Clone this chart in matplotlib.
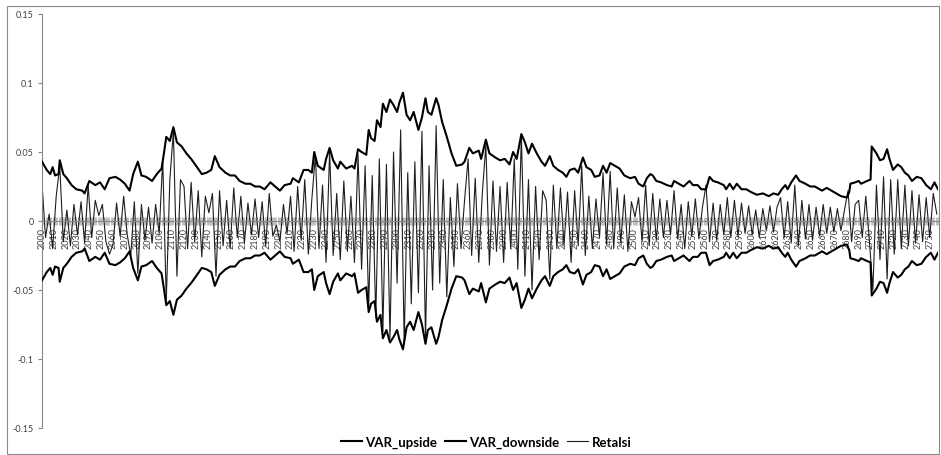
import numpy as np
import matplotlib
matplotlib.use('Agg')
import matplotlib.pyplot as plt
from matplotlib.patches import Rectangle

# observation days, 2000 ... 2757
first_day = 2000
last_day = 2757

# VaR envelope (day offset from first_day)
var_off = [0, 4, 7, 9, 11, 14, 15, 18, 21, 25,
           29, 34, 36, 40, 45, 49, 53, 57, 62, 66,
           70, 74, 77, 81, 84, 88, 93, 97, 101, 103,
           105, 108, 111, 114, 118, 122, 126, 131, 135, 139,
           143, 146, 150, 155, 159, 163, 167, 172, 176, 180,
           184, 188, 193, 197, 201, 205, 210, 212, 217, 221,
           225, 228, 230, 233, 238, 240, 243, 246, 250, 252,
           257, 262, 264, 267, 270, 274, 276, 278, 281, 283,
           286, 288, 291, 294, 297, 300, 302, 305, 308, 311,
           314, 318, 321, 324, 326, 329, 333, 335, 338, 342,
           346, 350, 355, 357, 361, 364, 369, 371, 375, 378,
           383, 387, 391, 395, 398, 401, 405, 408, 411, 414,
           418, 422, 425, 429, 432, 436, 440, 443, 446, 450,
           453, 457, 460, 464, 467, 471, 474, 477, 480, 484,
           488, 492, 497, 501, 504, 506, 508, 511, 514, 516,
           519, 523, 528, 532, 534, 538, 542, 547, 550, 554,
           557, 561, 564, 567, 571, 576, 578, 581, 584, 587,
           591, 595, 599, 604, 609, 614, 618, 622, 625, 628,
           630, 633, 637, 640, 645, 649, 653, 659, 663, 667,
           671, 675, 680, 682, 683, 687, 690, 692, 697, 700,
           701, 705, 708, 711, 714, 716, 719, 723, 726, 729,
           732, 735, 739, 743, 747, 751, 754, 757]

var_up = [0.043, 0.037, 0.034, 0.039, 0.033, 0.034, 0.044, 0.034, 0.031, 0.026,
          0.023, 0.022, 0.020, 0.029, 0.026, 0.028, 0.023, 0.031, 0.032, 0.030,
          0.027, 0.022, 0.034, 0.043, 0.033, 0.032, 0.029, 0.034, 0.038, 0.049,
          0.061, 0.058, 0.068, 0.057, 0.054, 0.049, 0.045, 0.039, 0.034, 0.035,
          0.037, 0.047, 0.039, 0.035, 0.033, 0.033, 0.029, 0.027, 0.027, 0.025,
          0.025, 0.023, 0.028, 0.025, 0.022, 0.026, 0.027, 0.031, 0.028, 0.037,
          0.037, 0.035, 0.050, 0.040, 0.037, 0.045, 0.053, 0.044, 0.038, 0.043,
          0.038, 0.040, 0.038, 0.052, 0.050, 0.048, 0.066, 0.060, 0.058, 0.073,
          0.068, 0.085, 0.079, 0.088, 0.084, 0.079, 0.086, 0.093, 0.077, 0.073,
          0.079, 0.066, 0.075, 0.089, 0.079, 0.077, 0.089, 0.084, 0.072, 0.061,
          0.049, 0.040, 0.041, 0.043, 0.053, 0.049, 0.051, 0.045, 0.059, 0.049,
          0.046, 0.044, 0.045, 0.041, 0.050, 0.045, 0.063, 0.057, 0.049, 0.056,
          0.049, 0.043, 0.040, 0.047, 0.040, 0.037, 0.035, 0.032, 0.037, 0.038,
          0.035, 0.046, 0.039, 0.037, 0.032, 0.033, 0.040, 0.035, 0.042, 0.040,
          0.038, 0.033, 0.031, 0.032, 0.027, 0.026, 0.025, 0.031, 0.034, 0.033,
          0.029, 0.028, 0.026, 0.025, 0.029, 0.027, 0.025, 0.029, 0.026, 0.026,
          0.023, 0.023, 0.032, 0.029, 0.028, 0.026, 0.023, 0.027, 0.023, 0.027,
          0.023, 0.023, 0.021, 0.019, 0.020, 0.018, 0.020, 0.019, 0.023, 0.026,
          0.023, 0.028, 0.033, 0.029, 0.027, 0.025, 0.025, 0.022, 0.024, 0.022,
          0.020, 0.018, 0.017, 0.021, 0.027, 0.028, 0.029, 0.027, 0.029, 0.030,
          0.054, 0.049, 0.044, 0.045, 0.052, 0.045, 0.037, 0.041, 0.039, 0.035,
          0.033, 0.029, 0.032, 0.031, 0.026, 0.023, 0.028, 0.023]

var_down = [-0.043, -0.037, -0.034, -0.039, -0.033, -0.034, -0.044, -0.034, -0.031, -0.026,
            -0.023, -0.022, -0.020, -0.029, -0.026, -0.028, -0.023, -0.031, -0.032, -0.030,
            -0.027, -0.022, -0.034, -0.043, -0.033, -0.032, -0.029, -0.034, -0.038, -0.049,
            -0.061, -0.058, -0.068, -0.057, -0.054, -0.049, -0.045, -0.039, -0.034, -0.035,
            -0.037, -0.047, -0.039, -0.035, -0.033, -0.033, -0.029, -0.027, -0.027, -0.025,
            -0.025, -0.023, -0.028, -0.025, -0.022, -0.026, -0.027, -0.031, -0.028, -0.037,
            -0.037, -0.035, -0.050, -0.040, -0.037, -0.045, -0.053, -0.044, -0.038, -0.043,
            -0.038, -0.040, -0.038, -0.052, -0.050, -0.048, -0.066, -0.060, -0.058, -0.073,
            -0.068, -0.085, -0.079, -0.088, -0.084, -0.079, -0.086, -0.093, -0.077, -0.073,
            -0.079, -0.066, -0.075, -0.089, -0.079, -0.077, -0.089, -0.084, -0.072, -0.061,
            -0.049, -0.040, -0.041, -0.043, -0.053, -0.049, -0.051, -0.045, -0.059, -0.049,
            -0.046, -0.044, -0.045, -0.041, -0.050, -0.045, -0.063, -0.057, -0.049, -0.056,
            -0.049, -0.043, -0.040, -0.047, -0.040, -0.037, -0.035, -0.032, -0.037, -0.038,
            -0.035, -0.046, -0.039, -0.037, -0.032, -0.033, -0.040, -0.035, -0.042, -0.040,
            -0.038, -0.033, -0.031, -0.032, -0.027, -0.026, -0.025, -0.031, -0.034, -0.033,
            -0.029, -0.028, -0.026, -0.025, -0.029, -0.027, -0.025, -0.029, -0.026, -0.026,
            -0.023, -0.023, -0.032, -0.029, -0.028, -0.026, -0.023, -0.027, -0.023, -0.027,
            -0.023, -0.023, -0.021, -0.019, -0.020, -0.018, -0.020, -0.019, -0.023, -0.026,
            -0.023, -0.028, -0.033, -0.029, -0.027, -0.025, -0.025, -0.022, -0.024, -0.022,
            -0.020, -0.018, -0.017, -0.021, -0.027, -0.028, -0.029, -0.027, -0.029, -0.030,
            -0.054, -0.049, -0.044, -0.045, -0.052, -0.045, -0.037, -0.041, -0.039, -0.035,
            -0.033, -0.029, -0.032, -0.031, -0.026, -0.023, -0.028, -0.023]

# returns, one value every 3rd day starting at first_day
ret_step = 3
retalsi = [0.027, -0.012, 0.005, -0.020, 0.018, 0.040, -0.015, 0.008, -0.018, 0.012,
           -0.010, 0.014, -0.016, 0.026, -0.012, 0.015, 0.004, 0.012, -0.015, -0.024,
           -0.017, 0.013, -0.011, 0.018, -0.010, -0.025, 0.014, -0.038, 0.012, -0.014,
           0.010, -0.016, 0.012, -0.009, 0.045, -0.058, 0.030, 0.065, -0.040, 0.030,
           0.025, -0.020, 0.028, -0.015, 0.022, -0.026, 0.018, 0.006, 0.020, -0.040,
           0.022, -0.018, 0.015, -0.020, 0.024, -0.012, 0.018, -0.016, 0.013, -0.010,
           0.016, -0.012, 0.014, -0.018, 0.020, -0.011, -0.003, -0.015, 0.012, -0.009,
           0.018, -0.022, 0.025, -0.014, 0.030, -0.024, 0.016, 0.048, -0.020, 0.026,
           -0.030, 0.050, -0.025, 0.020, -0.028, 0.029, -0.022, 0.018, -0.030, 0.048,
           -0.035, 0.040, -0.062, 0.033, -0.070, 0.045, -0.080, 0.041, -0.085, 0.050,
           -0.045, 0.066, -0.088, 0.035, -0.060, 0.043, -0.052, 0.065, -0.085, 0.040,
           -0.050, 0.069, -0.045, 0.030, -0.055, 0.017, -0.033, 0.027, -0.020, 0.015,
           0.045, -0.025, 0.031, -0.030, 0.020, 0.055, -0.032, 0.029, -0.022, 0.025,
           -0.030, 0.028, -0.020, 0.045, -0.035, 0.062, -0.040, 0.030, -0.050, 0.025,
           -0.028, 0.022, 0.015, -0.042, 0.026, -0.020, 0.024, -0.018, 0.021, -0.030,
           0.022, -0.018, 0.040, -0.025, 0.018, -0.020, 0.016, -0.012, 0.035, -0.017,
           0.036, -0.020, 0.024, -0.016, 0.019, -0.022, 0.014, 0.003, 0.017, -0.015,
           0.026, -0.018, 0.020, -0.014, 0.016, -0.012, 0.015, -0.010, 0.022, -0.013,
           0.012, -0.020, 0.014, -0.011, 0.016, -0.013, 0.010, 0.026, -0.015, 0.013,
           -0.014, 0.012, -0.010, 0.017, -0.012, 0.015, -0.011, 0.013, -0.009, 0.011,
           -0.010, 0.008, -0.012, 0.009, -0.007, 0.011, -0.008, 0.010, 0.017, -0.012,
           0.014, -0.016, 0.026, -0.018, 0.015, -0.013, 0.012, -0.014, 0.010, -0.011,
           0.012, -0.009, 0.010, -0.008, 0.009, -0.007, 0.008, 0.022, -0.015, 0.012,
           0.015, -0.012, 0.018, -0.014, -0.050, 0.026, -0.028, 0.032, -0.042, 0.030,
           -0.024, 0.030, -0.020, 0.026, -0.018, 0.022, -0.016, 0.019, -0.015, 0.017,
           -0.012, 0.020, 0.005]

y_ticks = [-0.15, -0.1, -0.05, 0, 0.05, 0.1, 0.15]
y_labels = ['-0.15', '-0.1', '-0.05', '0', '0.05', '0.1', '0.15']

plt.rcParams['font.family'] = ['Lato', 'DejaVu Sans']

W, H = 941, 456
fig = plt.figure(figsize=(W / 100, H / 100), dpi=100)
ax = fig.add_axes([42 / W, 27 / H, 896 / W, 414 / H])
ax.set_axisbelow(True)

var_days = np.array(var_off) + first_day
ret_days = first_day + ret_step * np.arange(len(retalsi))

l_ret, = ax.plot(ret_days, retalsi, color='#1e1e1e', lw=0.8, zorder=2)
l_up, = ax.plot(var_days, var_up, color='black', lw=1.5, zorder=3)
l_down, = ax.plot(var_days, var_down, color='black', lw=1.5, zorder=3)

ax.set_xlim(first_day, last_day)
ax.set_ylim(-0.15, 0.15)

# excel style: category axis crossing at zero
for s in ['top', 'right']:
    ax.spines[s].set_visible(False)
ax.spines['left'].set_color('#868686')
ax.spines['bottom'].set_position(('data', 0))
ax.spines['bottom'].set_color('#868686')

label_days = list(range(first_day, 2751, 10))
ax.set_xticks(label_days)
ax.set_xticklabels([str(d) for d in label_days], rotation=90, fontsize=6.5,
                   color='#404040')
ax.set_xticks(range(first_day, last_day + 1), minor=True)
ax.tick_params(axis='x', which='both', direction='inout', length=6,
               width=0.5, color='#a6a6a6', pad=1.5)

ax.set_yticks(y_ticks)
ax.set_yticklabels(y_labels, fontsize=6.5, color='#404040')
ax.tick_params(axis='y', direction='out', length=3, width=0.8,
               color='#868686', pad=3)

fig.legend([l_up, l_down, l_ret], ['VAR_upside', 'VAR_downside', 'Retalsi'],
           loc='center', bbox_to_anchor=(486 / W, 13 / H), ncol=3,
           frameon=False, prop={'weight': 'bold', 'size': 9.5},
           handlelength=1.6, handletextpad=0.25, columnspacing=0.6)

# chart area border
fig.patches.append(Rectangle((7 / W, 1 / H), 932 / W, 448 / H,
                             transform=fig.transFigure, fill=False,
                             ec='#898989', lw=0.8))

fig.savefig('out.png', dpi=100)
